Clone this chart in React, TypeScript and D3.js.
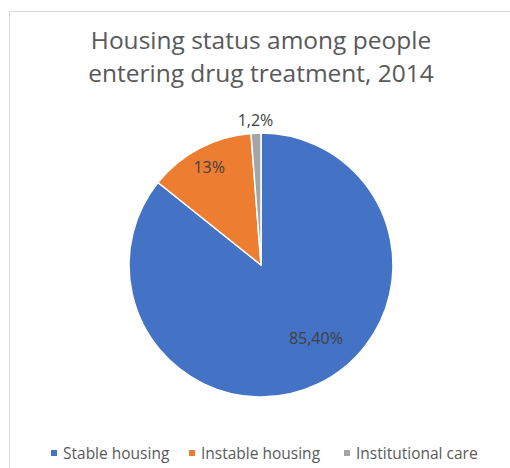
import React from "react";
import * as d3 from "d3";

const categories = ["Stable housing", "Instable housing", "Institutional care"];
const values = [85.4, 13, 1.2];
const labels = ["85,40%", "13%", "1,2%"];
const colors = ["#4472C4", "#ED7D31", "#A5A5A5"];
const titleLines = ["Housing status among people", "entering drug treatment, 2014"];

const W = 510;
const H = 468;
const FONT = "'Open Sans', 'Liberation Sans', sans-serif";

export default function App() {
  const cx = 261;
  const cy = 265;
  const r = 132;
  const pie = d3.pie<number>().sort(null).value((d) => d);
  const arcs = pie(values);
  const arc = d3.arc<d3.PieArcDatum<number>>().innerRadius(0).outerRadius(r);

  // label placement: fraction along slice angle, fraction of radius
  const labelAngleFrac = [0.463, 0.5, 0.5];
  const labelRadii = [0.69, 0.84, 1.1];

  const legendX = [51, 189, 344];
  const legendTextX = [63, 201, 356];

  return (
    <svg
      width={W}
      height={H}
      style={{ position: "absolute", left: 0, top: 0, background: "#fff" }}
      fontFamily={FONT}
    >
      <rect x={9.5} y={11.5} width={W} height={H} fill="#fff" stroke="#d9d9d9" strokeWidth={1} />
      {titleLines.map((t, i) => (
        <text key={i} x={261} y={49 + i * 33} textAnchor="middle" fontSize={24.5} fill="#595959">
          {t}
        </text>
      ))}
      <g transform={`translate(${cx},${cy})`}>
        {arcs.map((a, i) => (
          <path key={i} d={arc(a) || ""} fill={colors[i]} stroke="#fff" strokeWidth={1.5} strokeLinejoin="round" />
        ))}
        {arcs.map((a, i) => {
          const ang = a.startAngle + (a.endAngle - a.startAngle) * labelAngleFrac[i];
          const rr = r * labelRadii[i];
          const x = rr * Math.sin(ang);
          const y = -rr * Math.cos(ang);
          return (
            <text key={i} x={x} y={y} textAnchor="middle" dominantBaseline="central" fontSize={16} fill="#404040">
              {labels[i]}
            </text>
          );
        })}
      </g>
      {categories.map((c, i) => (
        <g key={i}>
          <rect x={legendX[i]} y={450} width={6} height={6} fill={colors[i]} />
          <text x={legendTextX[i]} y={453} dominantBaseline="central" fontSize={15.5} fill="#595959">
            {c}
          </text>
        </g>
      ))}
    </svg>
  );
}
